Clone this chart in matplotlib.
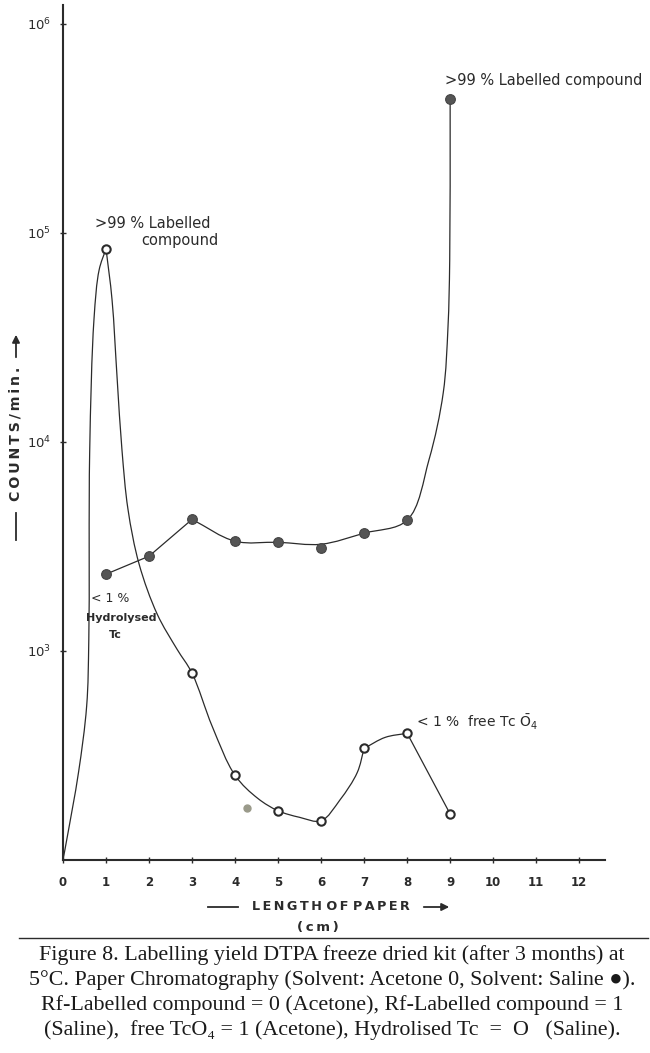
"""Paper chromatography of a DTPA freeze dried kit after 3 months at 5 C (Figure 8)."""
import numpy as np
import matplotlib
matplotlib.use("Agg")
import matplotlib.pyplot as plt
from matplotlib.path import Path
from matplotlib.patches import PathPatch, FancyArrowPatch
from matplotlib.lines import Line2D

# --- measured points (length of paper in cm, counts/min) ---
ACETONE_X = [1, 3, 4, 5, 6, 7, 8, 9]
ACETONE_COUNTS = [84000, 783, 254, 172, 154, 342, 404, 166]
SALINE_X = [1, 2, 3, 4, 5, 6, 7, 8, 9]
SALINE_COUNTS = [2330, 2840, 4260, 3350, 3310, 3100, 3660, 4220, 436000]
STRAY_X = [4.28]
STRAY_COUNTS = [178]

# --- hand drawn curves ---
ACE_RISE_X = [0, 0.09, 0.36, 0.55, 0.60, 0.62, 0.72, 0.84, 1.0]
ACE_RISE_COUNTS = [100, 126, 262, 545, 1140, 8900, 38500, 66500, 84000]
ACE_FALL_X = [1.0, 1.14, 1.26, 1.37, 1.51, 1.77, 2.19, 2.65, 3, 3.47, 4, 4.53, 5, 5.5, 6,
              6.44, 6.84, 7]
ACE_FALL_COUNTS = [84000, 47900, 19900, 9200, 4770, 2600, 1500, 1020, 783, 435, 254, 197,
                   172, 160, 154, 194, 262, 342]
ACE_ARC_X = [7, 7.49, 8]
ACE_ARC_COUNTS = [342, 386, 404]
ACE_TAIL_X = [8, 9]
ACE_TAIL_COUNTS = [404, 166]
SAL_LEFT_X = [1, 2, 3]
SAL_LEFT_COUNTS = [2330, 2840, 4260]
SAL_MAIN_X = [3, 4, 5, 6, 7, 8, 8.51, 8.84, 8.95, 8.99, 9.0]
SAL_MAIN_COUNTS = [4260, 3350, 3310, 3240, 3660, 4220, 8240, 17200, 35500, 74000, 436000]

X_TICKS = list(range(0, 13))
Y_TICKS = [1e3, 1e4, 1e5, 1e6]

CAPTION = [
    "Figure 8. Labelling yield DTPA freeze dried kit (after 3 months) at",
    "5°C. Paper Chromatography (Solvent: Acetone 0, Solvent: Saline \u25cf).",
    "Rf-Labelled compound = 0 (Acetone), Rf-Labelled compound = 1",
    "(Saline),  free TcO\u2084 = 1 (Acetone), Hydrolised Tc  =  O   (Saline).",
]

INK = "#2b2b2b"
W, H = 650, 1053


def fx(px):
    return px / W


def fy(py):
    return 1 - py / H


def smooth_curve(ax, xs, counts, **kw):
    # centripetal Catmull-Rom through the traced points, in (cm, log10) space
    sx, sy = 43.0, 209.0
    p = np.column_stack([np.asarray(xs, float) * sx, np.log10(counts) * sy])
    n = len(p)
    verts, codes = [p[0]], [Path.MOVETO]
    for i in range(n - 1):
        p1, p2 = p[i], p[i + 1]
        p0 = p[i - 1] if i > 0 else 2 * p1 - p2
        p3 = p[i + 2] if i + 2 < n else 2 * p2 - p1
        d1 = max(np.linalg.norm(p1 - p0) ** 0.5, 1e-6)
        d2 = max(np.linalg.norm(p2 - p1) ** 0.5, 1e-6)
        d3 = max(np.linalg.norm(p3 - p2) ** 0.5, 1e-6)
        m1 = (p1 - p0) / d1 - (p2 - p0) / (d1 + d2) + (p2 - p1) / d2
        m2 = (p2 - p1) / d2 - (p3 - p1) / (d2 + d3) + (p3 - p2) / d3
        verts += [p1 + m1 * d2 / 3, p2 - m2 * d2 / 3, p2]
        codes += [Path.CURVE4] * 3
    v = np.array(verts)
    v = np.column_stack([v[:, 0] / sx, 10 ** (v[:, 1] / sy)])
    ax.add_patch(PathPatch(Path(v, codes), fill=False, transform=ax.transData, **kw))


def spaced(s):
    return "\u2009".join(s)


fig = plt.figure(figsize=(6.5, 10.53), dpi=100)
ax = fig.add_axes([fx(63), fy(860), fx(605) - fx(63), fy(5) - fy(860)])
ax.set_yscale("log")
ax.set_xlim(0, 12.6)
ax.set_ylim(100, 10 ** 6.09)
for s in ("top", "right"):
    ax.spines[s].set_visible(False)
for s in ("left", "bottom"):
    ax.spines[s].set_linewidth(1.5)
    ax.spines[s].set_color(INK)

ax.set_xticks(X_TICKS)
ax.set_xticklabels([str(t) for t in X_TICKS], fontsize=8.5, fontweight="bold", color=INK)
ax.set_yticks(Y_TICKS)
ax.set_yticklabels([r"$10^{%d}$" % int(np.log10(t)) for t in Y_TICKS], fontsize=9.5, color=INK)
ax.yaxis.set_minor_locator(matplotlib.ticker.NullLocator())
ax.tick_params(axis="both", direction="inout", length=5, width=1, color=INK)
ax.tick_params(axis="x", pad=9)
ax.tick_params(axis="y", pad=6)

line_kw = dict(color=INK, lw=0.9)
smooth_curve(ax, ACE_RISE_X, ACE_RISE_COUNTS, **line_kw)
smooth_curve(ax, ACE_FALL_X, ACE_FALL_COUNTS, **line_kw)
smooth_curve(ax, ACE_ARC_X, ACE_ARC_COUNTS, **line_kw)
ax.plot(ACE_TAIL_X, ACE_TAIL_COUNTS, **line_kw)
ax.plot(SAL_LEFT_X, SAL_LEFT_COUNTS, **line_kw)
smooth_curve(ax, SAL_MAIN_X, SAL_MAIN_COUNTS, **line_kw)

ax.plot(ACETONE_X, ACETONE_COUNTS, "o", ms=6, mfc="white", mec=INK, mew=1.5, zorder=5)
ax.plot(SALINE_X, SALINE_COUNTS, "o", ms=7, mfc="#555555", mec="#444444", mew=0.8, zorder=5)
ax.plot(STRAY_X, STRAY_COUNTS, "o", ms=5, mfc="#9a9a8a", mec="#9a9a8a", zorder=5)

ann = dict(fontsize=10.5, color=INK, va="center")
ax.text(0.74, 10 ** 5.043, ">99 % Labelled", **ann)
ax.text(1.81, 10 ** 4.962, "compound", **ann)
ax.text(8.88, 10 ** 5.73, ">99 % Labelled compound", **ann)
ax.text(0.65, 10 ** 3.253, "< 1 %", fontsize=9, color=INK, va="center")
ax.text(0.53, 10 ** 3.158, "Hydrolysed", fontsize=8, color=INK, va="center", fontweight="bold")
ax.text(1.07, 10 ** 3.076, "Tc", fontsize=8, color=INK, va="center", fontweight="bold")
ax.text(8.21, 10 ** 2.659, r"< 1 %  free Tc $\bar{\mathrm{O}}_4$", fontsize=10, color=INK,
        va="center")

# axis titles drawn as in the original, with dash and arrow
fig.text(fx(331), fy(907), spaced("LENGTH") + " " + spaced("OF") + " " + spaced("PAPER"),
         ha="center", va="center", fontsize=9.2, color=INK, fontweight="bold")
fig.add_artist(Line2D([fx(208), fx(238)], [fy(907), fy(907)], color=INK, lw=1.3))
fig.add_artist(FancyArrowPatch((fx(421), fy(907)), (fx(452), fy(907)), transform=fig.transFigure,
                               arrowstyle="-|>", mutation_scale=11, color=INK, lw=1.3))
fig.text(fx(318), fy(928), spaced("(cm)"), ha="center", va="center", fontsize=9.5,
         color=INK, fontweight="bold")

fig.text(fx(16), fy(434), spaced("COUNTS/min."), rotation=90, ha="center", va="center",
         fontsize=10.2, color=INK, fontweight="bold")
fig.add_artist(Line2D([fx(16), fx(16)], [fy(513), fy(540)], color=INK, lw=1.3))
fig.add_artist(FancyArrowPatch((fx(16), fy(360)), (fx(16), fy(332)), transform=fig.transFigure,
                               arrowstyle="-|>", mutation_scale=11, color=INK, lw=1.3))

fig.add_artist(Line2D([fx(19), fx(648)], [fy(938), fy(938)], color=INK, lw=1.0))
for i, line in enumerate(CAPTION):
    fig.text(fx(332), fy(955 + 25 * i), line, ha="center", va="center", fontsize=15.8,
             color="#1a1a1a", family=["Liberation Serif", "DejaVu Sans"])

fig.savefig("out.png", dpi=100)
